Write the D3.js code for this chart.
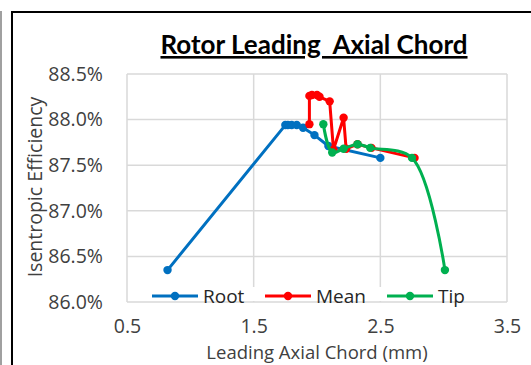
<!DOCTYPE html>
<html>
<head>
<meta charset="utf-8">
<script src="https://cdn.jsdelivr.net/npm/d3@7"></script>
<style>
  html, body { margin: 0; padding: 0; background: #fff; }
  svg { display: block; font-family: "Open Sans", Lato, sans-serif; }
</style>
</head>
<body>
<svg id="chart" width="531" height="365"></svg>
<script>
// Leading axial chord (mm) vs isentropic efficiency (%) for three span stations
const rootChord = [0.82, 1.75, 1.77, 1.80, 1.84, 1.89, 1.98, 2.09, 2.50];
const rootEff   = [86.35, 87.94, 87.94, 87.94, 87.94, 87.91, 87.83, 87.71, 87.58];

const meanChord = [1.94, 1.94, 1.96, 2.00, 2.02, 2.10, 2.13, 2.21, 2.23, 2.32, 2.43, 2.77];
const meanEff   = [87.95, 88.26, 88.27, 88.27, 88.25, 88.20, 87.67, 88.02, 87.68, 87.73, 87.69, 87.58];

const tipChord = [2.05, 2.12, 2.21, 2.32, 2.42, 2.75, 3.01];
const tipEff   = [87.95, 87.64, 87.68, 87.73, 87.69, 87.58, 86.35];

const xTicks = [0.5, 1.5, 2.5, 3.5];
const yTicks = [86.0, 86.5, 87.0, 87.5, 88.0, 88.5];

const series = [
  { name: "Root", color: "#0070C0", x: rootChord, y: rootEff, curve: d3.curveLinear },
  { name: "Mean", color: "#FF0000", x: meanChord, y: meanEff, curve: d3.curveLinear },
  { name: "Tip",  color: "#00B050", x: tipChord,  y: tipEff,  curve: d3.curveCatmullRom.alpha(0.5) }
];

const svg = d3.select("#chart");

// outer frames
svg.append("line").attr("x1", 1).attr("y1", 11).attr("x2", 1).attr("y2", 365)
  .attr("stroke", "#808080").attr("stroke-width", 1.5);
svg.append("path").attr("d", "M12,365 V12 H531")
  .attr("fill", "none").attr("stroke", "#000").attr("stroke-width", 2);

const plot = { left: 127, right: 507, top: 74, bottom: 302 };

const x = d3.scaleLinear().domain([0.5, 3.5]).range([plot.left, plot.right]);
const y = d3.scaleLinear().domain([86.0, 88.5]).range([plot.bottom, plot.top]);

// gridlines
const grid = svg.append("g").attr("stroke", "#d9d9d9").attr("stroke-width", 1.5);
grid.selectAll("line.v").data(xTicks).join("line")
  .attr("x1", d => x(d)).attr("x2", d => x(d))
  .attr("y1", plot.top).attr("y2", plot.bottom);
grid.selectAll("line.h").data(yTicks).join("line")
  .attr("x1", plot.left).attr("x2", plot.right)
  .attr("y1", d => y(d)).attr("y2", d => y(d));

// axes (labels only)
const xAxis = svg.append("g").attr("transform", `translate(0,${plot.bottom + 14})`)
  .call(d3.axisBottom(x).tickValues(xTicks).tickSize(0).tickFormat(d3.format(".1f")));
const yAxis = svg.append("g").attr("transform", `translate(${plot.left - 21},0)`)
  .call(d3.axisLeft(y).tickValues(yTicks).tickSize(0).tickFormat(d => d.toFixed(1) + "%"));
[xAxis, yAxis].forEach(a => {
  a.select(".domain").remove();
  a.selectAll("text").attr("font-family", "'Open Sans', sans-serif")
    .attr("font-size", 19.5).attr("fill", "#404040");
});
xAxis.selectAll("text").attr("dy", "0.71em");

// series lines and markers
series.forEach(s => {
  const pts = s.x.map((v, i) => [v, s.y[i]]);
  svg.append("path").datum(pts)
    .attr("fill", "none").attr("stroke", s.color).attr("stroke-width", 3)
    .attr("stroke-linejoin", "round")
    .attr("d", d3.line().x(d => x(d[0])).y(d => y(d[1])).curve(s.curve));
  svg.append("g").selectAll("circle").data(pts).join("circle")
    .attr("cx", d => x(d[0])).attr("cy", d => y(d[1])).attr("r", 4.2)
    .attr("fill", s.color);
});

// legend
const legend = svg.append("g");
legend.append("rect").attr("x", 148).attr("y", 287).attr("width", 310).attr("height", 14)
  .attr("fill", "#fff");
const legendX = [152, 265, 387];
series.forEach((s, i) => {
  const g = legend.append("g").attr("transform", `translate(${legendX[i]},296)`);
  g.append("line").attr("x1", 0).attr("x2", 46).attr("stroke", s.color).attr("stroke-width", 3);
  g.append("circle").attr("cx", 23).attr("r", 4.2).attr("fill", s.color);
  g.append("text").attr("x", 51).attr("dy", "0.36em").attr("font-size", 19)
    .attr("fill", "#262626").text(s.name);
});

// title
svg.append("text").attr("x", 314).attr("y", 54).attr("text-anchor", "middle")
  .attr("font-family", "Lato, sans-serif")
  .attr("font-size", 26).attr("font-weight", "bold").attr("fill", "#000")
  .attr("text-decoration", "underline").style("white-space", "pre")
  .text("Rotor Leading  Axial Chord");

// axis titles
svg.append("text").attr("x", 317).attr("y", 359).attr("text-anchor", "middle")
  .attr("font-size", 18.5).attr("fill", "#404040").text("Leading Axial Chord (mm)");
svg.append("text").attr("transform", "translate(42,187) rotate(-90)")
  .attr("text-anchor", "middle").attr("font-size", 19.5).attr("fill", "#404040")
  .text("Isentropic Efficiency");
</script>
</body>
</html>
